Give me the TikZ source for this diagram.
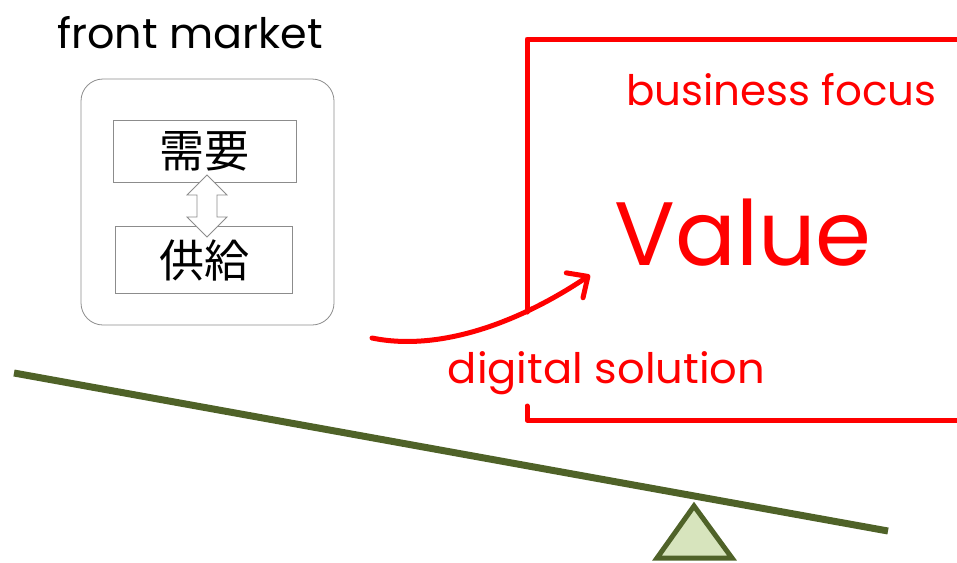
\documentclass[tikz,border=0pt]{standalone}
\usepackage{fontspec}
\setmainfont{Poppins}
\newfontfamily\cjk{Noto Sans CJK JP}
\usetikzlibrary{arrows.meta}
\definecolor{olive}{HTML}{4F6228}
\definecolor{olivefill}{HTML}{D7E4BD}
\definecolor{boxgray}{HTML}{8C8C8C}
\tikzset{
  redline/.style={draw=red, line width=5pt, line join=round, line cap=round},
  kbox/.style={draw=boxgray, line width=0.8pt, fill=white},
  ktext/.style={font=\cjk\fontsize{45}{48}\selectfont, anchor=center, inner sep=0pt},
  redtext/.style={text=red, anchor=base, inner sep=0pt},
}
\begin{document}
\begin{tikzpicture}[x=1pt,y=-1pt]
\useasboundingbox (0,0) rectangle (957,562);
\begin{scope}
\clip (0,0) rectangle (957,562);
% title
\node[anchor=base, inner sep=0pt, font=\fontsize{42}{46}\selectfont, xscale=1.02] (title) at (190,48) {front market};
% rounded market box
\draw[draw=boxgray, line width=0.8pt, rounded corners=22pt] (81,79) rectangle (334,325);
\node[kbox, minimum width=183pt, minimum height=62pt, inner sep=0pt] (demand) at (204.5,151) {};
\node[kbox, minimum width=177pt, minimum height=67pt, inner sep=0pt] (supply) at (203.5,259.5) {};
\node[ktext] (demandtxt) at (204,151) {需要};
\node[ktext] (supplytxt) at (204,260) {供給};
% double arrow
\coordinate (dtop) at (207,175);
\coordinate (dbot) at (207,237);
\draw[draw=boxgray, line width=0.8pt, fill=white, line join=miter]
  (dtop) -- (227,195) -- (217,195) -- (217,217) -- (227,217) -- (dbot)
  -- (187,217) -- (197,217) -- (197,195) -- (187,195) -- cycle;
% red frame
\coordinate (ftl) at (527,39);
\coordinate (fbl) at (527,420);
\draw[redline] (527,312) -- (ftl) -- (980,39);
\draw[redline] (527,406) -- (fbl) -- (980,420);
\node[redtext, font=\fontsize{42}{46}\selectfont] (focus) at (781.5,105) {business focus};
\node[redtext, font=\fontsize{90}{96}\selectfont] (value) at (743,265) {Value};
\node[redtext, font=\fontsize{42}{46}\selectfont, xscale=1.03] (digital) at (606.5,383) {digital solution};
% curved arrow
\coordinate (astart) at (372,338);
\coordinate (aend) at (590,275);
\draw[draw=red, line width=5pt, line cap=round, -{Straight Barb[round, length=16pt, width=30pt]}]
  (astart) .. controls (440,352) and (520,322) .. (aend);
% seesaw
\coordinate (sl) at (14,373);
\coordinate (sr) at (888,531);
\draw[draw=olive, line width=7pt] (sl) -- (sr);
\draw[draw=olive, fill=olivefill, line width=5pt, line join=miter] (694,506) -- (732,558) -- (657,558) -- cycle;
\end{scope}
\end{tikzpicture}
\end{document}
